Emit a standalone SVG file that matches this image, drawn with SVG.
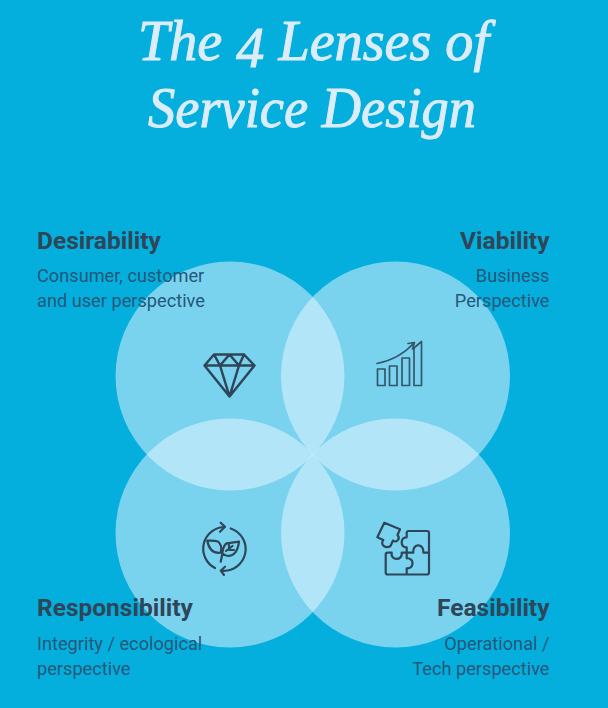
<svg xmlns="http://www.w3.org/2000/svg" width="608" height="708" viewBox="0 0 608 708">
<style>
.lens{fill:#e6f6ff;fill-opacity:.52}
.title{font-family:"Liberation Serif",serif;font-style:italic;font-weight:400;font-size:56px;fill:#dcecf9;stroke:#dcecf9;stroke-width:1;text-anchor:middle}
.h{font-family:Roboto,sans-serif;font-weight:700;font-size:24.500px;fill:#2f4558}
.s{font-family:Roboto,sans-serif;font-size:18.200px;fill:#24587a}
.e{text-anchor:end}
.i{fill:none;stroke:#2f4558;stroke-width:2.200;stroke-linejoin:round;stroke-linecap:round}
</style>
<rect width="608" height="708" fill="#04aedd"/>
<g id="title">
<text class="title" x="313.500" y="60" textLength="351" lengthAdjust="spacingAndGlyphs">The <tspan dy="7">4</tspan><tspan dy="-7"> Lenses of</tspan></text>
<text class="title" x="312" y="127" textLength="328" lengthAdjust="spacingAndGlyphs">Service Design</text>
</g>
<g id="desirability">
<circle class="lens" cx="230" cy="376" r="114.500"/>
<path class="i" style="stroke-width:2.500" d="M214 354.500H244L254.500 365.500L229.500 396.500L204.500 365.500ZM204.500 365.500H254.500M214 354.500L220 365.500L229.500 396.500L239 365.500L244 354.500M220 365.500L229.500 354.500L239 365.500"/>
<text class="h" x="37" y="249">Desirability</text>
<text class="s" x="37" y="282">Consumer, customer</text>
<text class="s" x="37" y="307">and user perspective</text>
</g>
<g id="viability">
<circle class="lens" cx="395.500" cy="376" r="114.500"/>
<path class="i" style="stroke-width:1.700;stroke:#35566b" d="M377.500 369H385V385.500H377.500ZM389.500 366H397V385.500H389.500ZM402 358H409.500V385.500H402ZM414 348L421.500 341.500V385.500H414ZM377 363.500C390 361 403 355 414 343M408 343.500L414.500 342.500L412.500 349"/>
<text class="h e" x="549.500" y="249">Viability</text>
<text class="s e" x="549.500" y="282">Business</text>
<text class="s e" x="549.500" y="307">Perspective</text>
</g>
<g id="responsibility">
<circle class="lens" cx="230" cy="533" r="114.500"/>
<path class="i" d="M215 568A21.700 21.700 0 0 1 225 527M220.700 522.700L225 526.700L220 531.700M230.700 528.500A21.700 21.700 0 0 1 221.700 570.700M225 566.700L220.700 570.700L224 575"/>
<path class="i" d="M220.700 561.700L222.500 553.300M220.700 552.700C214 553.500 209 550 207.300 540.700C212 540.500 215 540.500 218 541.500C221 544 222 548 220.700 552.700ZM222.300 553.300C223 548 224 545 226.700 543.300L239 541.700C238 550 235 556 228 556C226 556 224 555 222.300 553.300ZM226 551L232.500 546M229 547.500V544.500M229.500 550H234"/>
<text class="h" x="37" y="616">Responsibility</text>
<text class="s" x="37" y="650">Integrity / ecological</text>
<text class="s" x="37" y="675">perspective</text>
</g>
<g id="feasibility">
<circle class="lens" cx="395.500" cy="533" r="114.500"/>
<path class="i" d="M406.700 537.300V533Q406.700 531 408.700 531H427Q429 531 429 533V572.500Q429 574.500 427 574.500H387.700Q385.700 574.500 385.700 572.500V554.700Q385.700 552.700 387.700 552.700H391.700C390 561 403 561 401.700 552.700H406.700V547.300C400 548 400 537 406.700 537.300ZM406.700 552.700H413.300C412 543 424.500 543 423.300 552.700H429M406.700 552.700V558.300C414.500 557.500 414.500 569 406.700 568.300V574.500"/>
<path class="i" d="M377.300 537.300L384.300 522.700L400 529.300L397.500 535C401 539 396 543 393 540.500L390.500 546C386 549 379.500 545 383.300 540Z"/>
<text class="h e" x="549.500" y="616">Feasibility</text>
<text class="s e" x="549.500" y="650">Operational /</text>
<text class="s e" x="549.500" y="675">Tech perspective</text>
</g>
</svg>
